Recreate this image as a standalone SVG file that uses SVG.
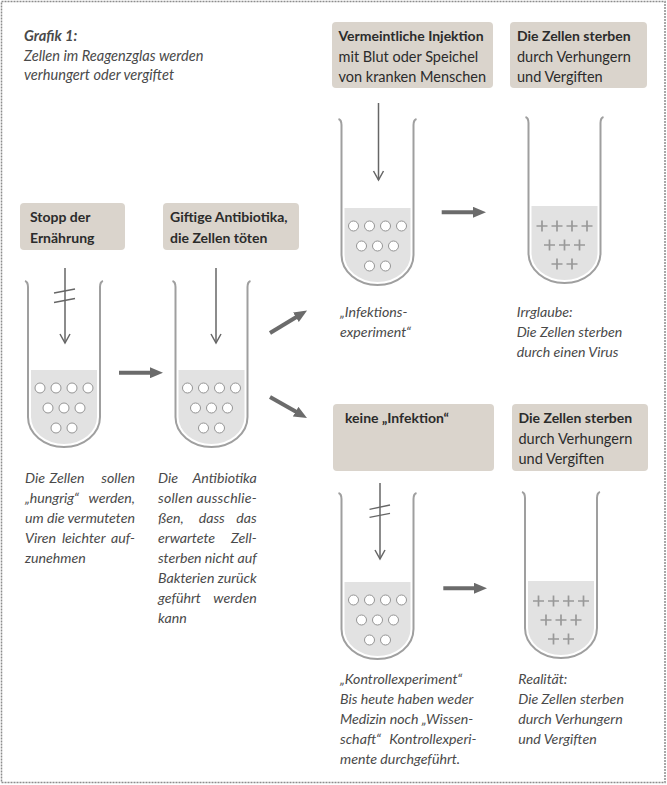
<svg xmlns="http://www.w3.org/2000/svg" xmlns:xlink="http://www.w3.org/1999/xlink" width="667" height="785" viewBox="0 0 667 785">
<style>
.frame{fill:#fff;stroke:#8c8c8c;stroke-width:1.5;stroke-dasharray:2 1}
.box{fill:#dad4cc}
.bt{font-family:Lato,"Open Sans","Noto Sans",sans-serif;font-weight:bold;font-size:14px;fill:#2b2b2b}
.rt{font-family:Lato,"Open Sans","Noto Sans",sans-serif;font-size:14.5px;fill:#2b2b2b}
.cap{font-family:Lato,"Open Sans","Noto Sans",sans-serif;font-style:italic;font-size:14.2px;fill:#4a4a4a}
.ttl{font-family:Lato,"Open Sans","Noto Sans",sans-serif;font-style:italic;font-size:14.6px;fill:#4a4a4a}
.glass{fill:none;stroke:#9f9f9f;stroke-width:2}
.liq{fill:#e2e2e2}
.cell{fill:#fff;stroke:#959595;stroke-width:1}
.plus{fill:none;stroke:#999;stroke-width:1.7}
.thin{fill:none;stroke:#666;stroke-width:1.5;marker-end:url(#vee)}
.slash{stroke:#666;stroke-width:1.3}
.thick{fill:none;stroke:#6b6b6b;stroke-width:4;marker-end:url(#tri)}
</style>
<defs>
<marker id="vee" markerUnits="userSpaceOnUse" viewBox="-11 -7 13 14" markerWidth="13" markerHeight="14" refX="0" refY="0" orient="auto"><path d="M-9,-5 L0,0 L-9,5" fill="none" stroke="#666" stroke-width="1.5"/></marker>
<marker id="tri" markerUnits="userSpaceOnUse" viewBox="0 0 13 11" markerWidth="13" markerHeight="11" refX="3" refY="5.5" orient="auto"><path d="M0,0 L13,5.5 L0,11 Z" fill="#6b6b6b"/></marker>
<g id="tubeBody">
<path class="liq" d="M3,87 H69 V134 A33,27 0 0 1 3,134 Z"/>
<path class="glass" d="M-3,-2 Q0,-1 0,4 V134 A36,30 0 0 0 72,134 V4 Q72,-1 75,-2"/>
</g>
<g id="cells">
<circle class="cell" cx="12" cy="105" r="5"/><circle class="cell" cx="28" cy="105" r="5"/><circle class="cell" cx="44" cy="105" r="5"/><circle class="cell" cx="60" cy="105" r="5"/>
<circle class="cell" cx="20" cy="125" r="5"/><circle class="cell" cx="36" cy="125" r="5"/><circle class="cell" cx="52" cy="125" r="5"/>
<circle class="cell" cx="28" cy="145" r="5"/><circle class="cell" cx="44" cy="145" r="5"/>
</g>
<path id="dead" class="plus" d="M8,107h11M13.5,101.5v11M23,107h11M28.5,101.5v11M38,107h11M43.5,101.5v11M53,107h11M58.5,101.5v11M15.5,126h11M21,120.5v11M30.5,126h11M36,120.5v11M45.5,126h11M51,120.5v11M23,145h11M28.5,139.5v11M38,145h11M43.5,139.5v11"/>
</defs>

<rect class="frame" x="1.5" y="1.5" width="663.5" height="781"/>

<g id="title">
<text class="ttl" x="24" y="41" font-weight="bold">Grafik 1:</text>
<text class="ttl" x="24" y="61">Zellen im Reagenzglas werden</text>
<text class="ttl" x="24" y="80">verhungert oder vergiftet</text>
</g>

<g id="box-stopp">
<rect class="box" x="20" y="203" width="105" height="47" rx="4"/>
<text class="bt" x="30" y="222">Stopp der</text>
<text class="bt" x="30" y="242.5">Ernährung</text>
</g>
<g id="box-antibiotika">
<rect class="box" x="163" y="203" width="136" height="47" rx="4"/>
<text class="bt" x="170" y="222">Giftige Antibiotika,</text>
<text class="bt" x="170" y="242.5">die Zellen töten</text>
</g>
<g id="box-injektion">
<rect class="box" x="332" y="22" width="161" height="66" rx="4"/>
<text class="bt" x="338.5" y="41">Vermeintliche Injektion</text>
<text class="rt" x="338.5" y="61.5">mit Blut oder Speichel</text>
<text class="rt" x="338.5" y="82">von kranken Menschen</text>
</g>
<g id="box-sterben-1">
<rect class="box" x="510" y="22" width="137" height="66" rx="4"/>
<text class="bt" x="517" y="41">Die Zellen sterben</text>
<text class="rt" x="517" y="61.5">durch Verhungern</text>
<text class="rt" x="517" y="82">und Vergiften</text>
</g>
<g id="box-keine">
<rect class="box" x="333" y="404" width="161" height="67" rx="4"/>
<text class="bt" x="345" y="423">keine „Infektion“</text>
</g>
<g id="box-sterben-2">
<rect class="box" x="512" y="404" width="136" height="67" rx="4"/>
<text class="bt" x="518.5" y="423">Die Zellen sterben</text>
<text class="rt" x="518.5" y="443.5">durch Verhungern</text>
<text class="rt" x="518.5" y="464">und Vergiften</text>
</g>

<g id="tube-1" transform="translate(28,283)"><use xlink:href="#tubeBody"/><use xlink:href="#cells"/></g>
<g id="tube-2" transform="translate(175.5,283)"><use xlink:href="#tubeBody"/><use xlink:href="#cells"/></g>
<g id="tube-3" transform="translate(341.5,121)"><use xlink:href="#tubeBody"/><use xlink:href="#cells"/></g>
<g id="tube-4" transform="translate(528.5,119)"><use xlink:href="#tubeBody"/><use xlink:href="#dead"/></g>
<g id="tube-5" transform="translate(341.5,495)"><use xlink:href="#tubeBody"/><use xlink:href="#cells"/></g>
<g id="tube-6" transform="translate(525,494)"><use xlink:href="#tubeBody"/><use xlink:href="#dead"/></g>

<g id="connectors">
<line class="thin" x1="65" y1="268" x2="65" y2="343"/>
<line class="slash" x1="54" y1="293" x2="75" y2="289"/>
<line class="slash" x1="54" y1="302.5" x2="75" y2="298.5"/>
<line class="thin" x1="216" y1="268" x2="216" y2="343"/>
<line class="thin" x1="378.5" y1="103" x2="378.5" y2="180"/>
<line class="thin" x1="380" y1="483" x2="380" y2="559"/>
<line class="slash" x1="369.5" y1="509.3" x2="390" y2="505"/>
<line class="slash" x1="369.5" y1="517.3" x2="390" y2="513.3"/>
<line class="thick" x1="119" y1="372.7" x2="153" y2="372.7"/>
<line class="thick" x1="441.7" y1="212.3" x2="476" y2="212.3"/>
<line class="thick" x1="443.3" y1="588.3" x2="477" y2="588.3"/>
<line class="thick" x1="270" y1="333" x2="298.5" y2="315.7"/>
<line class="thick" x1="270" y1="397" x2="298.3" y2="413.1"/>
</g>

<g id="caption-1">
<text class="cap" x="25" y="483">Die</text><text class="cap" x="67" y="483" text-anchor="middle">Zellen</text><text class="cap" x="135" y="483" text-anchor="end">sollen</text>
<text class="cap" x="25" y="503">„hungrig“</text><text class="cap" x="135" y="503" text-anchor="end">werden,</text>
<text class="cap" x="25" y="523" textLength="110" lengthAdjust="spacing">um die vermuteten</text>
<text class="cap" x="25" y="543">Viren</text><text class="cap" x="83.7" y="543" text-anchor="middle">leichter</text><text class="cap" x="135" y="543" text-anchor="end">auf-</text>
<text class="cap" x="25" y="563">zunehmen</text>
</g>
<g id="caption-2">
<text class="cap" x="158" y="483">Die</text><text class="cap" x="256.7" y="483" text-anchor="end">Antibiotika</text>
<text class="cap" x="158" y="503" textLength="98.7" lengthAdjust="spacing">sollen ausschlie-</text>
<text class="cap" x="158" y="523">ßen,</text><text class="cap" x="211.7" y="523" text-anchor="middle">dass</text><text class="cap" x="256.7" y="523" text-anchor="end">das</text>
<text class="cap" x="158" y="543">erwartete</text><text class="cap" x="256.7" y="543" text-anchor="end">Zell-</text>
<text class="cap" x="158" y="563" textLength="98.7" lengthAdjust="spacing">sterben nicht auf</text>
<text class="cap" x="158" y="583" textLength="98.7" lengthAdjust="spacing">Bakterien zurück</text>
<text class="cap" x="158" y="603">geführt</text><text class="cap" x="256.7" y="603" text-anchor="end">werden</text>
<text class="cap" x="158" y="623">kann</text>
</g>
<g id="caption-3">
<text class="cap" x="340" y="317">„Infektions-</text>
<text class="cap" x="340" y="337">experiment“</text>
</g>
<g id="caption-4">
<text class="cap" x="516.7" y="317">Irrglaube:</text>
<text class="cap" x="516.7" y="337">Die Zellen sterben</text>
<text class="cap" x="516.7" y="357">durch einen Virus</text>
</g>
<g id="caption-5">
<text class="cap" x="340" y="684">„Kontrollexperiment“</text>
<text class="cap" x="340" y="704">Bis heute haben weder</text>
<text class="cap" x="340" y="724">Medizin noch „Wissen-</text>
<text class="cap" x="340" y="744">schaft“</text><text class="cap" x="476.5" y="744" text-anchor="end">Kontrollexperi-</text>
<text class="cap" x="340" y="764">mente durchgeführt.</text>
</g>
<g id="caption-6">
<text class="cap" x="518.3" y="684">Realität:</text>
<text class="cap" x="518.3" y="704">Die Zellen sterben</text>
<text class="cap" x="518.3" y="724">durch Verhungern</text>
<text class="cap" x="518.3" y="744">und Vergiften</text>
</g>
</svg>
